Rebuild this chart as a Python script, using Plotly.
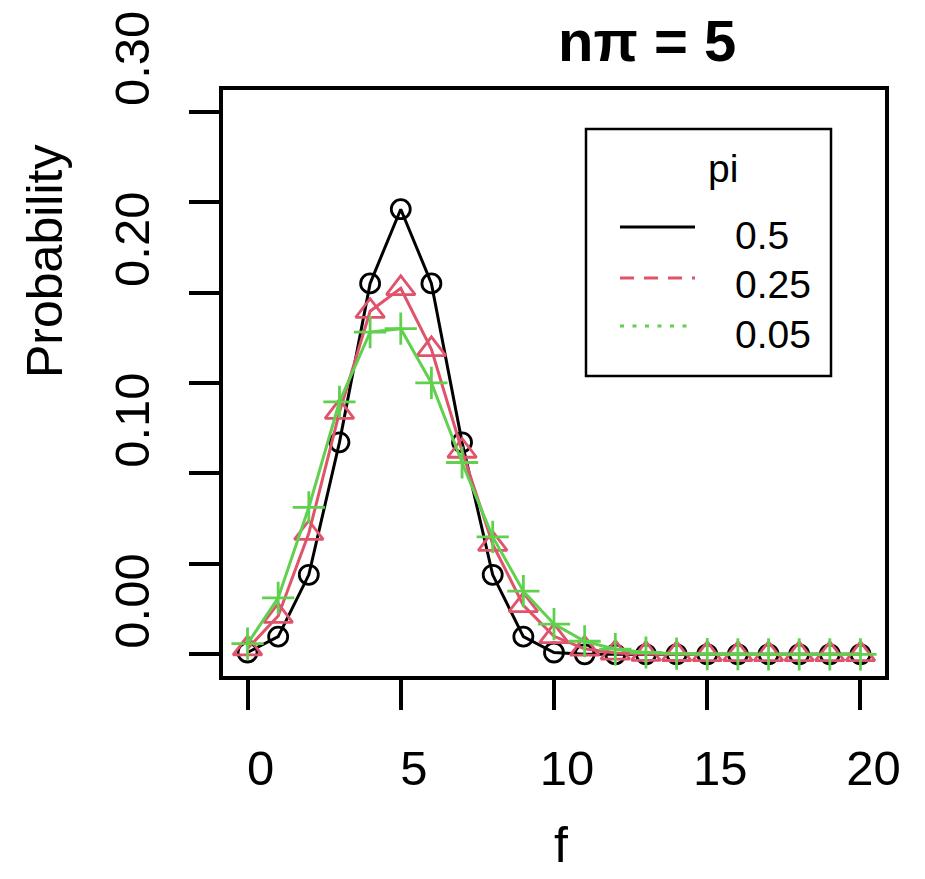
import plotly.graph_objects as go

# ---- data ----
f_vals = list(range(21))
pi_labels = ["0.5", "0.25", "0.05"]
prob_pi_050 = [0.00098, 0.00977, 0.04395, 0.11719, 0.20508, 0.24609, 0.20508, 0.11719,
               0.04395, 0.00977, 0.00098, 0, 0, 0, 0, 0, 0, 0, 0, 0, 0]
prob_pi_025 = [0.00317, 0.02114, 0.06695, 0.13390, 0.18969, 0.20233, 0.16861, 0.11241,
               0.06089, 0.02706, 0.00992, 0.00301, 0.00075, 0.00015, 0.00003, 0.0,
               0, 0, 0, 0, 0]
prob_pi_005 = [0.00592, 0.03116, 0.08120, 0.13959, 0.17817, 0.18004, 0.15004, 0.10604,
               0.06488, 0.03491, 0.01672, 0.00720, 0.00281, 0.00100, 0.00033, 0.00010,
               0.00003, 0, 0, 0, 0]
x_ticks = [0, 5, 10, 15, 20]
y_ticks = [0, 0.05, 0.10, 0.15, 0.20, 0.25, 0.30]
y_tick_text = ["0.00", "", "0.10", "", "0.20", "", "0.30"]

FONT = "Liberation Sans, Arial, sans-serif"
BLACK, RED, GREEN = "#000000", "#DF536B", "#61D04F"

# full-window figure (page body margin removed in post_script)
W, H = 925, 879
PL, PT, PW, PH = 223, 90, 662, 586          # plot area in window pixels
L, T = PL, PT
R, B = W - L - PW, H - T - PH


def px(x):
    return (x - PL) / PW


def py(y):
    return 1 - (y - PT) / PH


fig = go.Figure()
series = [
    (prob_pi_050, BLACK, "circle-open", 19),
    (prob_pi_025, RED, "triangle-up-open", 25),
    (prob_pi_005, GREEN, "cross-thin-open", 23),
]
for vals, col, sym, sz in series:
    fig.add_trace(go.Scatter(
        x=f_vals, y=vals, mode="lines+markers",
        line=dict(color=col, width=3),
        marker=dict(symbol=sym, size=sz, color=col, line=dict(color=col, width=2.8)),
        showlegend=False, hoverinfo="x+y",
    ))

fig.update_xaxes(
    range=[-0.8, 20.8], tickvals=x_ticks, ticktext=[str(v) for v in x_ticks],
    showgrid=False, zeroline=False, showline=True, mirror=True, linecolor="black", linewidth=3.5,
    ticks="outside", ticklen=30, tickwidth=3.5, tickcolor="black",
    tickfont=dict(family=FONT, size=49, color="black"), automargin=False,
    ticklabelshift=13, ticklabelstandoff=16, ticklabeloverflow="allow",
)
fig.update_yaxes(
    range=[-0.012, 0.312], tickvals=y_ticks, ticktext=y_tick_text,
    showgrid=False, zeroline=False, showline=True, mirror=True, linecolor="black", linewidth=3.5,
    ticks="outside", ticklen=30, tickwidth=3.5, tickcolor="black",
    tickfont=dict(family=FONT, size=49, color="black"), tickangle=-90, automargin=False,
    ticklabelshift=-46, ticklabelstandoff=21, ticklabeloverflow="allow",
)

annotations = [
    dict(text="<b>nπ = 5</b>", x=px(647), y=py(40), font=dict(size=58)),
    dict(text="f", x=px(561), y=py(845), font=dict(size=50)),
    dict(text="Probability", x=px(44.5), y=py(261.5), textangle=-90, font=dict(size=50)),
    dict(text="pi", x=px(723), y=py(168), font=dict(size=39)),
]
for lab, yc in zip(pi_labels, [236, 284, 334]):
    annotations.append(dict(text=lab, x=px(733), y=py(yc), xanchor="left", font=dict(size=39)))
for a in annotations:
    a.setdefault("xanchor", "center")
    a.update(xref="paper", yref="paper", yanchor="middle", showarrow=False)
    a["font"].update(family=FONT, color="black")

shapes = [
    dict(type="rect", xref="paper", yref="paper", x0=px(586), x1=px(831), y0=py(376), y1=py(129),
         line=dict(color="black", width=2.5), fillcolor="white", layer="above"),
]
for yl, col, dash in [(227, BLACK, "solid"), (278, RED, "14px,10px"), (326, GREEN, "4px,8.5px")]:
    shapes.append(dict(type="line", xref="paper", yref="paper", x0=px(620), x1=px(695),
                       y0=py(yl), y1=py(yl), line=dict(color=col, width=3, dash=dash), layer="above"))

fig.update_layout(
    width=W, height=H, margin=dict(l=L, r=R, t=T, b=B, pad=0, autoexpand=False),
    paper_bgcolor="white", plot_bgcolor="white",
    annotations=annotations, shapes=shapes, showlegend=False,
    font=dict(family=FONT, color="black"),
)
fig.write_html("out.html", config={"displayModeBar": False},
               post_script="document.body.style.margin='0';document.body.style.overflow='hidden';")
